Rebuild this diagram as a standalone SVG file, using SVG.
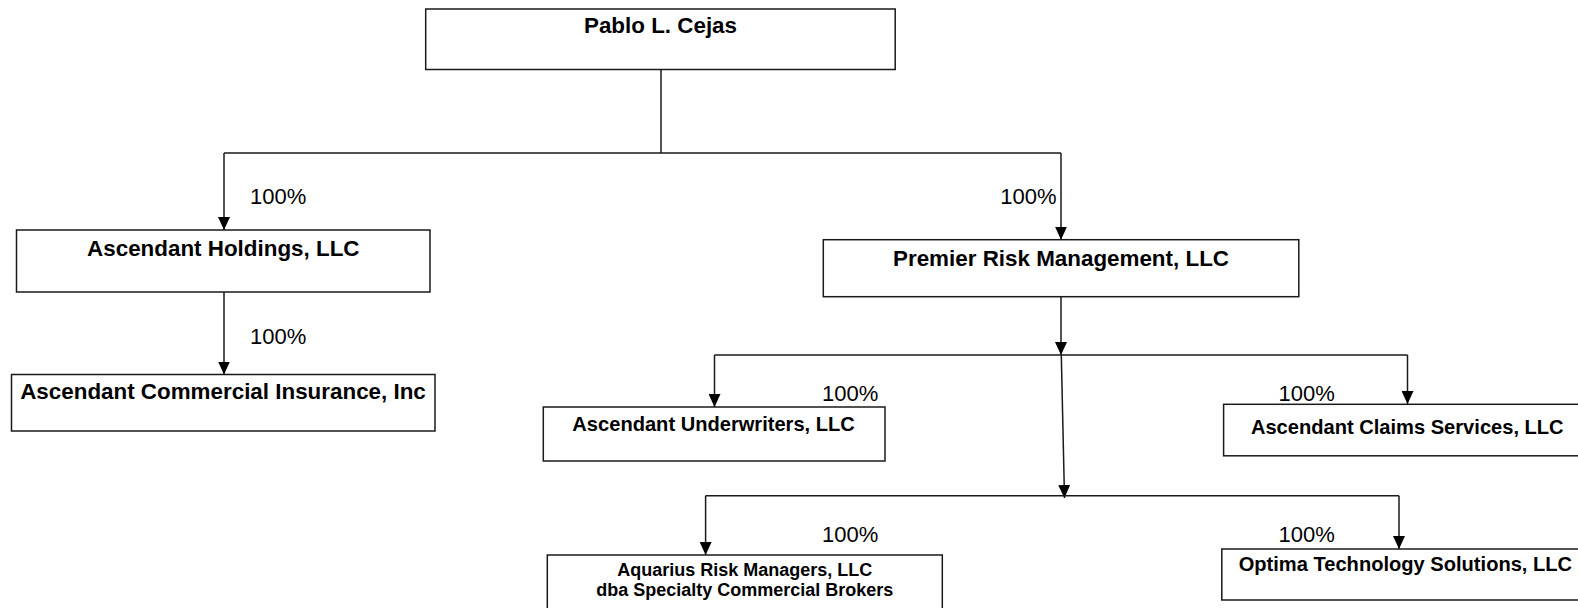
<svg xmlns="http://www.w3.org/2000/svg" width="1578" height="608" viewBox="0 0 1578 608">
<style>
.box{fill:#fff;stroke:#1a1a1a;stroke-width:1.5}
.t{font-family:"Liberation Sans",Arial,sans-serif;font-weight:bold;fill:#000;text-anchor:middle}
.big{font-size:22.4px}
.mid{font-size:20.1px}
.sm{font-size:18px}
.pct{font-family:"Liberation Sans",Arial,sans-serif;font-size:22px;fill:#000}
.c{fill:none;stroke:#1a1a1a;stroke-width:1.5}
</style>
<defs>
<marker id="ah" markerUnits="userSpaceOnUse" markerWidth="13" markerHeight="12" refX="13" refY="6" orient="auto">
<path d="M0,0 L13,6 L0,12 z" fill="#000"/>
</marker>
</defs>
<rect width="1578" height="608" fill="#fff"/>
<g id="connectors">
<path class="c" d="M661,69.5 V153"/>
<path class="c" d="M224,153 H1061"/>
<path class="c" d="M224,153 V230" marker-end="url(#ah)"/>
<path class="c" d="M1061,153 V239.7" marker-end="url(#ah)"/>
<path class="c" d="M224,292 V374.5" marker-end="url(#ah)"/>
<path class="c" d="M1061,296.7 V355" marker-end="url(#ah)"/>
<path class="c" d="M714.5,355 H1407.5"/>
<path class="c" d="M714.5,355 V407" marker-end="url(#ah)"/>
<path class="c" d="M1407.5,355 V404" marker-end="url(#ah)"/>
<path class="c" d="M1061.3,355 L1064.5,498" marker-end="url(#ah)"/>
<path class="c" d="M705.6,495.7 H1399"/>
<path class="c" d="M705.6,495.7 V555" marker-end="url(#ah)"/>
<path class="c" d="M1399,495.7 V549" marker-end="url(#ah)"/>
</g>
<g id="labels">
<text class="pct" x="250" y="204">100%</text>
<text class="pct" x="250" y="344">100%</text>
<text class="pct" x="1056.5" y="204" text-anchor="end">100%</text>
<text class="pct" x="822" y="400.5">100%</text>
<text class="pct" x="1278.5" y="400.5">100%</text>
<text class="pct" x="822" y="541.5">100%</text>
<text class="pct" x="1278.5" y="541.5">100%</text>
</g>
<g id="pablo">
<rect class="box" x="425.7" y="9" width="469.5" height="60.5"/>
<text class="t big" x="660.5" y="33.3">Pablo L. Cejas</text>
</g>
<g id="holdings">
<rect class="box" x="16.5" y="230" width="413.5" height="62"/>
<text class="t big" x="223.3" y="255.7">Ascendant Holdings, LLC</text>
</g>
<g id="aci">
<rect class="box" x="11.5" y="374.5" width="423.5" height="56.5"/>
<text class="t big" x="223" y="399">Ascendant Commercial Insurance, Inc</text>
</g>
<g id="premier">
<rect class="box" x="823.3" y="239.7" width="475.5" height="57"/>
<text class="t big" x="1061" y="266">Premier Risk Management, LLC</text>
</g>
<g id="underwriters">
<rect class="box" x="543.3" y="407" width="341.7" height="54"/>
<text class="t mid" x="713.6" y="431">Ascendant Underwriters, LLC</text>
</g>
<g id="claims">
<rect class="box" x="1223.6" y="404.3" width="370" height="51.5"/>
<text class="t mid" x="1407.3" y="434">Ascendant Claims Services, LLC</text>
</g>
<g id="aquarius">
<rect class="box" x="547.3" y="555" width="395" height="60"/>
<text class="t sm" x="744.8" y="576">Aquarius Risk Managers, LLC</text>
<text class="t sm" x="744.8" y="595.5">dba Specialty Commercial Brokers</text>
</g>
<g id="optima">
<rect class="box" x="1221.8" y="549" width="370" height="51"/>
<text class="t mid" x="1405.4" y="571">Optima Technology Solutions, LLC</text>
</g>
</svg>
